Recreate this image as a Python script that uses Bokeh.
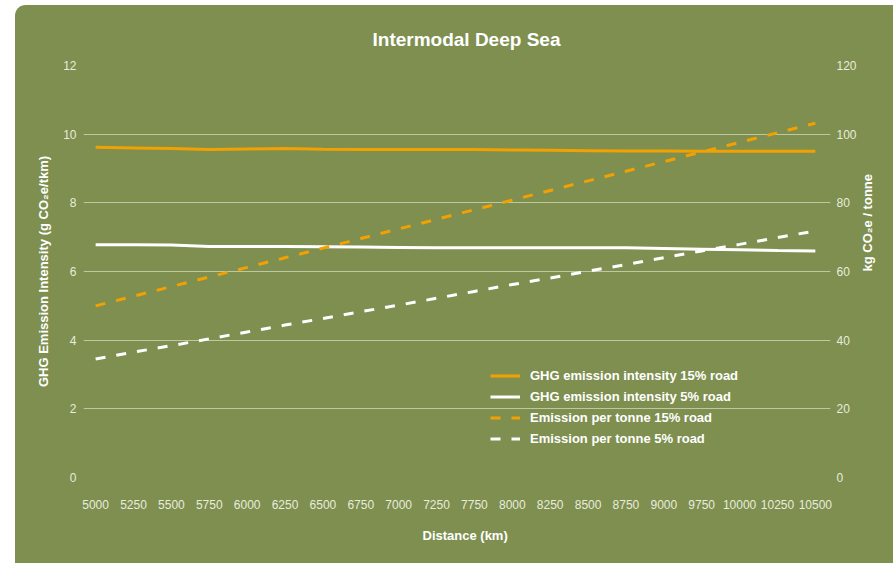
import math
from bokeh.plotting import figure
from bokeh.models import Range1d, LinearAxis, FixedTicker, Legend, LegendItem, Title
from bokeh.embed import file_html
from bokeh.resources import INLINE

# ---- data ----
distance_labels = ["5000", "5250", "5500", "5750", "6000", "6250", "6500", "6750", "7000", "7250",
                   "7750", "8000", "8250", "8500", "8750", "9000", "9750", "10000", "10250", "10500"]
ghg_intensity_15 = [9.62, 9.60, 9.58, 9.55, 9.57, 9.58, 9.56, 9.55, 9.55, 9.55,
                    9.55, 9.54, 9.53, 9.52, 9.51, 9.51, 9.50, 9.50, 9.50, 9.50]
ghg_intensity_5 = [6.78, 6.78, 6.77, 6.73, 6.73, 6.73, 6.72, 6.71, 6.70, 6.69,
                   6.69, 6.69, 6.69, 6.69, 6.69, 6.67, 6.65, 6.63, 6.61, 6.60]
per_tonne_15 = [50.0, 52.8, 55.6, 58.4, 61.2, 64.0, 66.8, 69.6, 72.4, 75.2,
                78.0, 80.8, 83.6, 86.4, 89.2, 92.0, 94.8, 97.6, 100.4, 103.2]
per_tonne_5 = [34.5, 36.5, 38.4, 40.4, 42.4, 44.4, 46.3, 48.3, 50.2, 52.2,
               54.2, 56.2, 58.1, 60.1, 62.0, 64.0, 66.0, 67.9, 69.9, 71.8]
left_ticks = [0, 2, 4, 6, 8, 10, 12]
right_ticks = [0, 20, 40, 60, 80, 100, 120]

x = list(range(len(distance_labels)))

BG = "#7E8F50"
ORANGE = "#F2A102"
TICK_COL = "#E8ECDC"
FONT = "Liberation Sans"

p = figure(width=878, height=558, output_backend="svg", toolbar_location=None,
           x_range=Range1d(-0.32, 19.4), y_range=Range1d(0, 12),
           background_fill_color=BG, border_fill_color=BG, outline_line_color=None,
           min_border_left=68, min_border_right=63, min_border_top=60, min_border_bottom=86,
           styles={"position": "fixed", "left": "15px", "top": "5px",
                   "background-color": BG,
                   "border-top-left-radius": "11px", "overflow": "hidden"})
p.extra_y_ranges = {"right": Range1d(0, 120)}

# title
p.title.text = "Intermodal Deep Sea"
p.title.align = "left"
p.title.offset = 289
p.title.standoff = 32
p.title.text_color = "white"
p.title.text_font = FONT
p.title.text_font_style = "bold"
p.title.text_font_size = "19px"

# grid
p.xgrid.grid_line_color = None
p.ygrid.grid_line_color = "#BEC8A3"
p.ygrid.grid_line_width = 1
p.ygrid.ticker = FixedTicker(ticks=left_ticks)

# x axis
xa = p.xaxis[0]
xa.ticker = FixedTicker(ticks=x)
xa.major_label_overrides = {i: lab for i, lab in zip(x, distance_labels)}

# left axis
ya = p.yaxis[0]
ya.ticker = FixedTicker(ticks=left_ticks)
ya.axis_label = "GHG Emission Intensity (g CO\u2082e/tkm)"
ya.axis_label_standoff = 9
ya.major_label_standoff = 1

# right axis
ra = LinearAxis(y_range_name="right", ticker=FixedTicker(ticks=right_ticks))
ra.major_label_standoff = 0
ra.axis_label = "kg CO\u2082e / tonne"
ra.axis_label_standoff = 8
if "axis_label_orientation" in LinearAxis.properties():
    ra.axis_label_orientation = math.pi / 2
p.add_layout(ra, "right")

for ax in [xa, ya, ra]:
    ax.axis_line_color = None
    ax.major_tick_line_color = None
    ax.minor_tick_line_color = None
    ax.major_label_text_color = TICK_COL
    ax.major_label_text_font = FONT
    ax.major_label_text_font_size = "12px"
    ax.axis_label_text_color = "white"
    ax.axis_label_text_font = FONT
    ax.axis_label_text_font_style = "bold"
    ax.axis_label_text_font_size = "13px"
xa.major_label_standoff = 16

# x axis title as a below-title so it can be offset like the reference
p.add_layout(Title(text="Distance (km)", align="left", offset=339, standoff=28,
                   text_color="white", text_font=FONT, text_font_style="bold",
                   text_font_size="13px"), "below")

# lines
r1 = p.line(x, ghg_intensity_15, line_color=ORANGE, line_width=3)
r2 = p.line(x, ghg_intensity_5, line_color="white", line_width=3)
r3 = p.line(x, per_tonne_15, y_range_name="right", line_color=ORANGE, line_width=3, line_dash="10 11")
r4 = p.line(x, per_tonne_5, y_range_name="right", line_color="white", line_width=3, line_dash="10 11")

legend = Legend(items=[
    LegendItem(label="GHG emission intensity 15% road", renderers=[r1]),
    LegendItem(label="GHG emission intensity 5% road", renderers=[r2]),
    LegendItem(label="Emission per tonne 15% road", renderers=[r3]),
    LegendItem(label="Emission per tonne 5% road", renderers=[r4]),
], location=(407, 28), background_fill_alpha=0, border_line_color=None,
    label_text_color="white", label_text_font=FONT, label_text_font_style="bold",
    label_text_font_size="13px", glyph_width=30, glyph_height=21, label_height=21,
    label_standoff=10, spacing=0, padding=0, margin=0)
p.add_layout(legend, "center")

open("out.html", "w").write(file_html(p, INLINE))
